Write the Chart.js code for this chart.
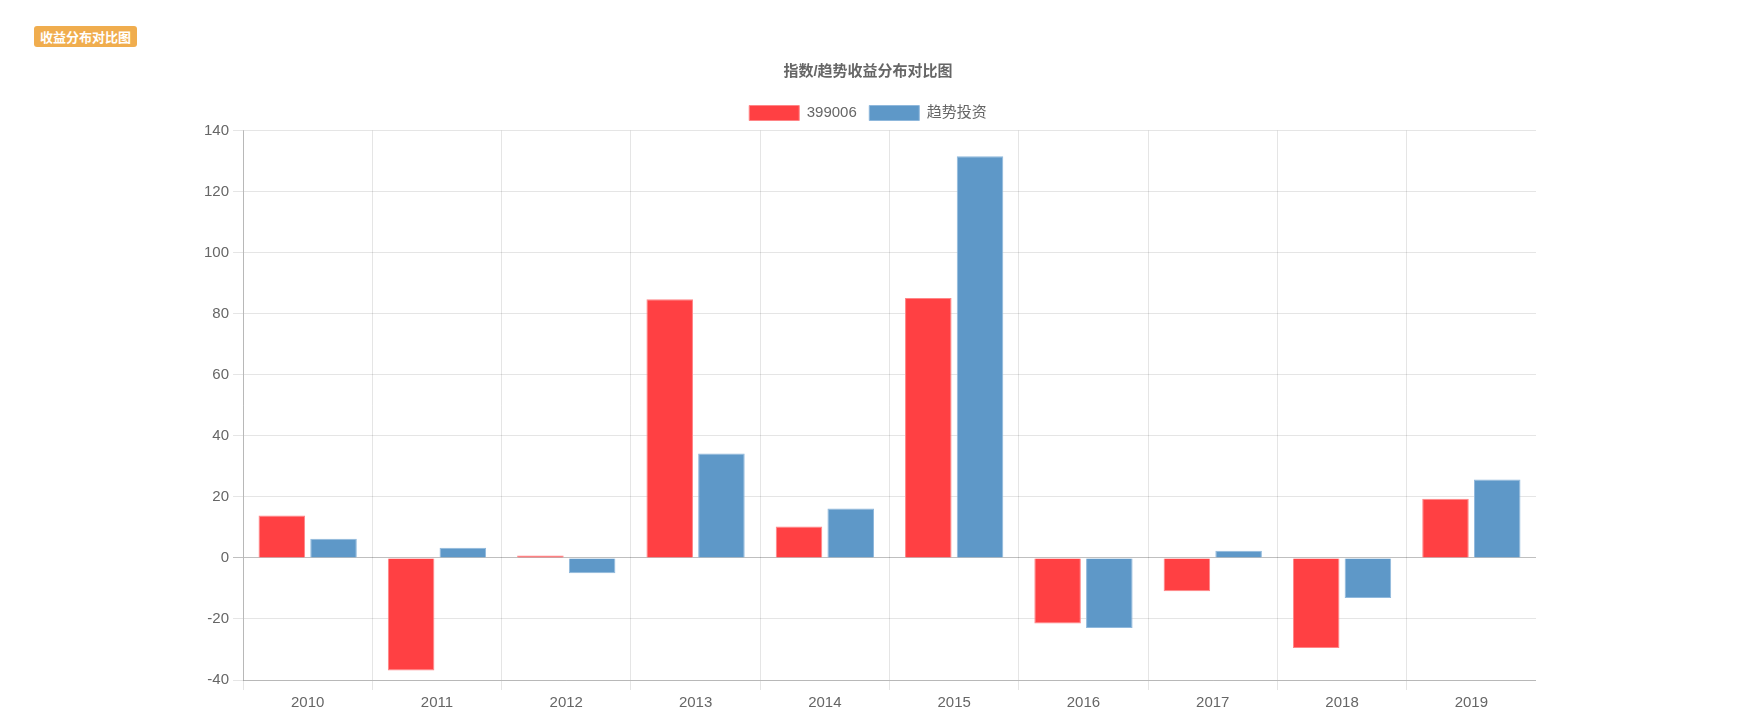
<!DOCTYPE html>
<html>
<head>
<meta charset="utf-8">
<script src="https://cdn.jsdelivr.net/npm/chart.js@4.4.0/dist/chart.umd.min.js"></script>
<style>
    body { margin: 0; background: #fff; font-family: "Liberation Sans", "Noto Sans CJK SC", sans-serif; }
    .badge {
        position: absolute; left: 34px; top: 26px; height: 21px; line-height: 21px;
        padding: 0 6px; background: #f0ad4e; color: #fff; font-weight: bold;
        font-size: 13px; border-radius: 3px;
        font-family: "Noto Sans CJK SC", sans-serif;
    }
    .chart-box { position: absolute; left: 200px; top: 50px; width: 1336px; height: 666px; }
</style>
</head>
<body>
<span class="badge">收益分布对比图</span>
<div class="chart-box"><canvas id="returnChart"></canvas></div>
<script>
// Chart data
const years = ['2010', '2011', '2012', '2013', '2014', '2015', '2016', '2017', '2018', '2019'];
const indexReturns = [13.9, -36.9, 0.8, 84.7, 10.3, 85.1, -21.5, -10.9, -29.5, 19.4];
const trendReturns = [6.3, 3.3, -5.0, 34.2, 16.2, 131.6, -23.0, 2.3, -13.1, 25.7];
const seriesNames = ['399006', '趋势投资'];

const fontFamily = '"Liberation Sans", "Noto Sans CJK SC", sans-serif';
Chart.defaults.font.family = fontFamily;
Chart.defaults.font.size = 15;
Chart.defaults.color = '#666';

const ctx = document.getElementById('returnChart').getContext('2d');
new Chart(ctx, {
    type: 'bar',
    data: {
        labels: years,
        datasets: [{
            label: seriesNames[0],
            data: indexReturns,
            backgroundColor: '#ff4043',
            borderColor: '#ff8587',
            borderWidth: 1,
            categoryPercentage: 0.8,
            barPercentage: 0.9
        }, {
            label: seriesNames[1],
            data: trendReturns,
            backgroundColor: '#5e98c8',
            borderColor: '#8fb8dc',
            borderWidth: 1,
            categoryPercentage: 0.8,
            barPercentage: 0.9
        }]
    },
    options: {
        responsive: true,
        maintainAspectRatio: false,
        animation: false,
        plugins: {
            title: {
                display: true,
                text: '指数/趋势收益分布对比图',
                font: { size: 15, weight: 'bold' },
                color: '#666',
                padding: 12.5
            },
            legend: {
                labels: { boxWidth: 50, boxHeight: 15, padding: 12.5 }
            },
            tooltip: { enabled: false }
        },
        scales: {
            x: {
                grid: { offset: true, tickLength: 10, color: 'rgba(0,0,0,0.1)' },
                border: { color: 'rgba(0,0,0,0.2)' },
                ticks: { padding: 4 }
            },
            y: {
                min: -40,
                max: 140,
                ticks: { stepSize: 20, padding: 4 },
                grid: {
                    tickLength: 10,
                    color: c => c.tick && c.tick.value === 0 ? 'rgba(0,0,0,0.25)' : 'rgba(0,0,0,0.1)'
                },
                border: { color: 'rgba(0,0,0,0.2)' }
            }
        }
    }
});
</script>
</body>
</html>
